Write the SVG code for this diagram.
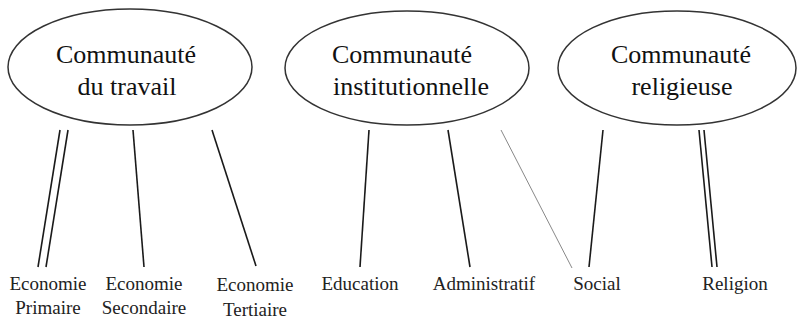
<svg xmlns="http://www.w3.org/2000/svg" width="798" height="321" viewBox="0 0 798 321">
<defs>
<style>
.node ellipse{fill:#fff;stroke:#333;stroke-width:1.5}
.conn line{stroke:#1a1a1a;stroke-width:1.6}
.conn line.grey{stroke:#888;stroke-width:1}
</style>
</defs>
<rect width="798" height="321" fill="#fff"/>
<g id="n-travail" class="node">
<ellipse cx="130" cy="67" rx="122" ry="58"/>
<text x="126" y="63" font-family="Liberation Serif" font-size="26" fill="#111" text-anchor="middle">Communauté</text>
<text x="127" y="95" font-family="Liberation Serif" font-size="26" fill="#111" text-anchor="middle">du travail</text>
</g>
<g id="n-institutionnelle" class="node">
<ellipse cx="407" cy="68" rx="122" ry="57"/>
<text x="402" y="63" font-family="Liberation Serif" font-size="26" fill="#111" text-anchor="middle">Communauté</text>
<text x="411" y="95" font-family="Liberation Serif" font-size="26" fill="#111" text-anchor="middle">institutionnelle</text>
</g>
<g id="n-religieuse" class="node">
<ellipse cx="677" cy="68" rx="119" ry="57"/>
<text x="681" y="63" font-family="Liberation Serif" font-size="26" fill="#111" text-anchor="middle">Communauté</text>
<text x="682" y="95" font-family="Liberation Serif" font-size="26" fill="#111" text-anchor="middle">religieuse</text>
</g>
<g id="connectors" class="conn">
<line x1="60" y1="130" x2="38" y2="267"/>
<line x1="68" y1="130" x2="46" y2="267"/>
<line x1="133" y1="130" x2="144" y2="267"/>
<line x1="212" y1="130" x2="256" y2="266"/>
<line x1="369" y1="130" x2="360" y2="267"/>
<line x1="448" y1="130" x2="470" y2="267"/>
<line class="grey" x1="501" y1="130" x2="572" y2="268"/>
<line x1="603" y1="130" x2="589" y2="267"/>
<line x1="699" y1="130" x2="712" y2="267"/>
<line x1="704" y1="130" x2="717" y2="267"/>
</g>
<g id="l-primaire"><text x="48" y="290" font-family="Liberation Serif" font-size="19" fill="#222" text-anchor="middle">Economie</text><text x="48" y="314" font-family="Liberation Serif" font-size="19" fill="#222" text-anchor="middle">Primaire</text></g>
<g id="l-secondaire"><text x="144" y="290" font-family="Liberation Serif" font-size="19" fill="#222" text-anchor="middle">Economie</text><text x="144" y="314" font-family="Liberation Serif" font-size="19" fill="#222" text-anchor="middle">Secondaire</text></g>
<g id="l-tertiaire"><text x="255" y="291" font-family="Liberation Serif" font-size="19" fill="#222" text-anchor="middle">Economie</text><text x="255" y="316" font-family="Liberation Serif" font-size="19" fill="#222" text-anchor="middle">Tertiaire</text></g>
<g id="l-education"><text x="360" y="290" font-family="Liberation Serif" font-size="19" fill="#222" text-anchor="middle">Education</text></g>
<g id="l-administratif"><text x="484" y="290" font-family="Liberation Serif" font-size="19" fill="#222" text-anchor="middle">Administratif</text></g>
<g id="l-social"><text x="597" y="290" font-family="Liberation Serif" font-size="19" fill="#222" text-anchor="middle">Social</text></g>
<g id="l-religion"><text x="735" y="290" font-family="Liberation Serif" font-size="19" fill="#222" text-anchor="middle">Religion</text></g>
</svg>
